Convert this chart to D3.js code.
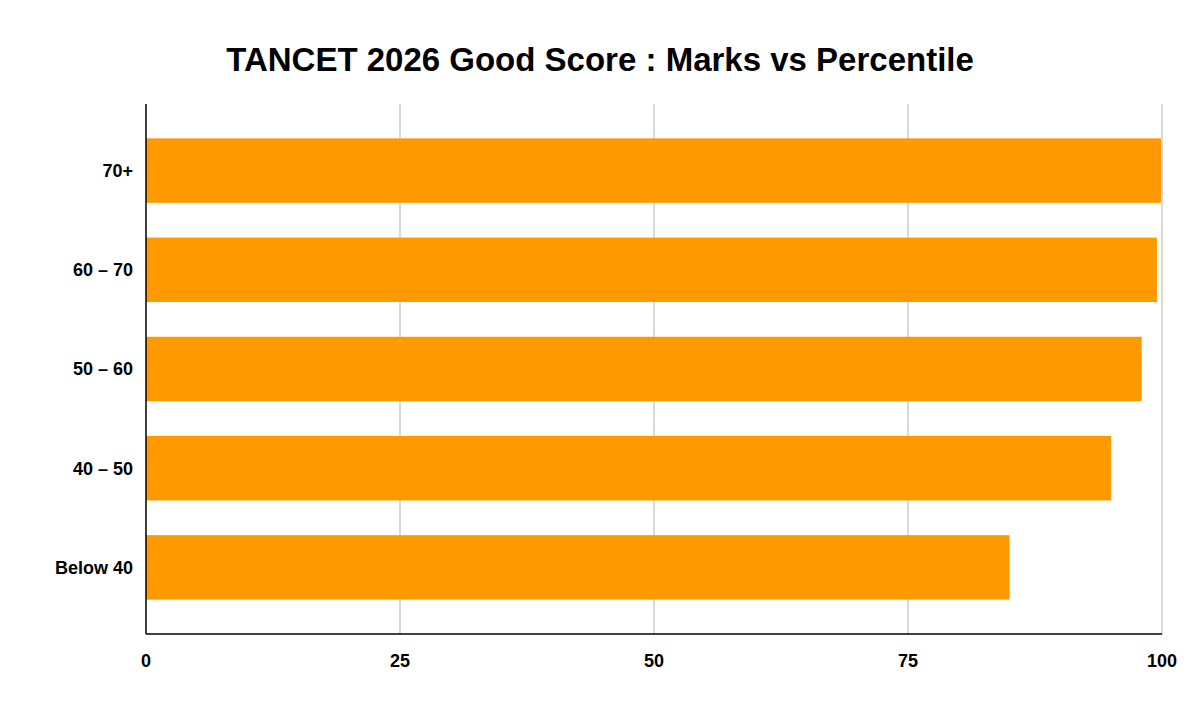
<!DOCTYPE html>
<html><head><meta charset="utf-8">
<script src="https://cdn.jsdelivr.net/npm/d3@7"></script>
<style>body{margin:0;background:#fff}svg{font-family:"Liberation Sans",Arial,sans-serif}</style>
</head><body>
<svg id="chart" width="1200" height="708"></svg>
<script>
// marks ranges and the percentile each one gets
const categories = ["70+", "60 – 70", "50 – 60", "40 – 50", "Below 40"];
const percentile = [99.9, 99.5, 98.0, 95.0, 85.0];
const ticks = [0, 25, 50, 75, 100];

const svg = d3.select("#chart");
const x = d3.scaleLinear().domain([0, 100]).range([146, 1162]);
const y = d3.scaleBand().domain(categories).range([121, 617]).paddingInner(0.35).paddingOuter(0.175);

svg.append("text").attr("x", 600).attr("y", 71).attr("text-anchor", "middle")
    .style("font-size", "33px").style("font-weight", "bold").text("TANCET 2026 Good Score : Marks vs Percentile");

// grid
svg.selectAll("line.grid").data(ticks.slice(1)).enter().append("line")
    .attr("x1", d => x(d)).attr("x2", d => x(d)).attr("y1", 104).attr("y2", 634)
    .attr("stroke", "#cccccc").attr("stroke-width", 1.5);

svg.selectAll("rect.bar").data(categories).enter().append("rect")
    .attr("x", x(0)).attr("y", d => y(d)).attr("height", y.bandwidth())
    .attr("width", (d, i) => x(percentile[i]) - x(0)).attr("fill", "#ff9900");

// axes lines
svg.append("line").attr("x1", 146).attr("x2", 146).attr("y1", 104).attr("y2", 634).attr("stroke", "#000").attr("stroke-width", 1.5);
svg.append("line").attr("x1", 146).attr("x2", 1162).attr("y1", 634).attr("y2", 634).attr("stroke", "#000").attr("stroke-width", 1.5);

svg.selectAll("text.xt").data(ticks).enter().append("text")
    .attr("x", d => x(d)).attr("y", 667).attr("text-anchor", "middle")
    .style("font-size", "18px").style("font-weight", "bold").text(d => d);

svg.selectAll("text.yt").data(categories).enter().append("text")
    .attr("x", 133).attr("y", d => y(d) + y.bandwidth() / 2).attr("dy", "0.35em")
    .attr("text-anchor", "end").style("font-size", "18px").style("font-weight", "bold").text(d => d);
</script>
</body></html>
